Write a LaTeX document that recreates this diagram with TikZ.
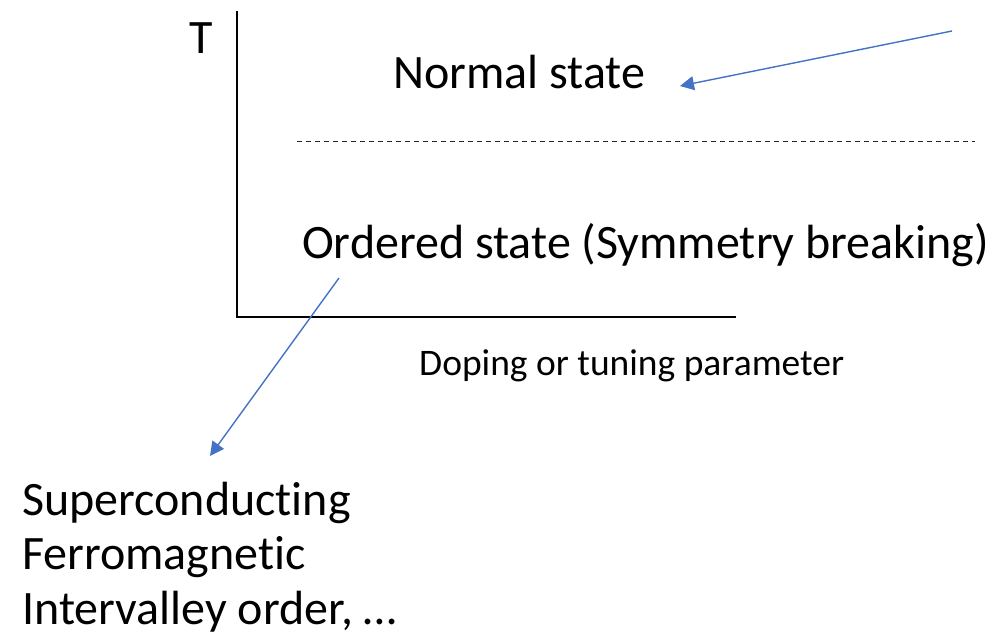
\documentclass[tikz,border=0pt]{standalone}
\usepackage{fontspec}
\setmainfont[Ligatures=NoCommon]{Carlito}
\usetikzlibrary{arrows.meta}
\definecolor{officeblue}{RGB}{68,114,196}
\begin{document}
\begin{tikzpicture}[x=1pt,y=-1pt,
  axis/.style={line width=1.3pt,black},
  pointer/.style={officeblue,line width=1.4pt,-{Triangle[length=14pt,width=14pt]}},
  big/.style={font=\fontsize{48}{56}\selectfont,inner sep=0pt,anchor=base west},
  small/.style={font=\fontsize{37.5}{44}\selectfont,inner sep=0pt,anchor=base west}]
\useasboundingbox (0,0) rectangle (993,637);
% axes
\coordinate (ytop) at (237,11);
\coordinate (orig) at (237,317);
\coordinate (xend) at (736,317);
\draw[axis] (ytop) -- (orig) -- (xend);
% phase boundary
\coordinate (bl) at (297,141);
\coordinate (br) at (975,141);
\draw[line width=0.9pt,dash pattern=on 5pt off 4pt,black!85] (bl) -- (br);
% labels
\node[big] (T) at (189,53) {T};
\node[big] (normal) at (393,88) {Normal state};
\node[big] (ordered) at (302,258) {Ordered state (Symmetry breaking)};
\node[small] (xlab) at (419,375) {Doping or tuning parameter};
\node[big] (sc) at (22,515) {Superconducting};
\node[big] (fm) at (22,569) {Ferromagnetic};
\node[big] (ivo) at (22,624) {Intervalley order, …};
% pointers
\coordinate (p1) at (952,31);
\coordinate (p1end) at (680,86);
\draw[pointer] (p1) -- (p1end);
\coordinate (p2) at (339,278);
\coordinate (p2end) at (210,456);
\draw[pointer] (p2) -- (p2end);
\end{tikzpicture}
\end{document}
